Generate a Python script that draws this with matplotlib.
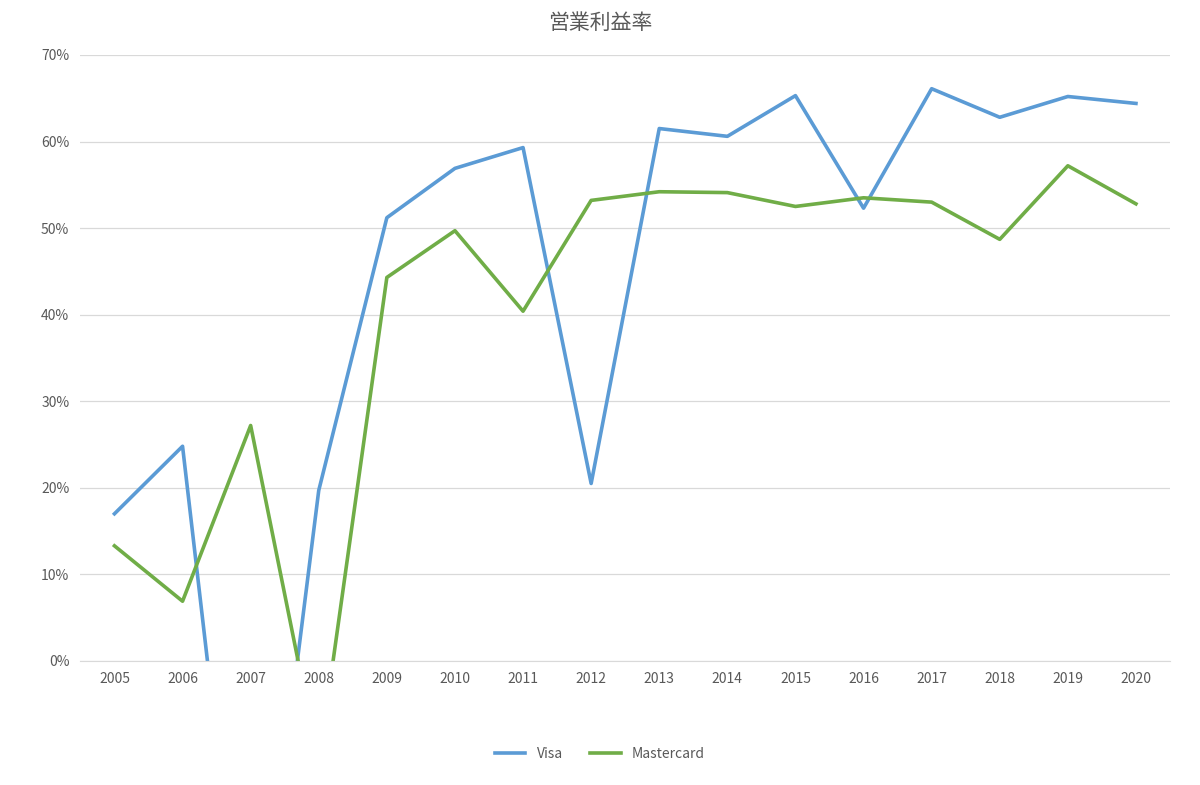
import matplotlib

matplotlib.use("Agg")
import matplotlib.pyplot as plt
from matplotlib.ticker import FuncFormatter

plt.rcParams["font.family"] = ["Noto Sans CJK JP", "DejaVu Sans"]

years = list(range(2005, 2021))
visa = [17.0, 24.8, -43.0, 19.7, 51.2, 56.9, 59.3, 20.5, 61.5, 60.6, 65.3,
        52.3, 66.1, 62.8, 65.2, 64.4]
mastercard = [13.3, 6.9, 27.2, -11.8, 44.3, 49.7, 40.4, 53.2, 54.2, 54.1, 52.5,
              53.5, 53.0, 48.7, 57.2, 52.8]

fig = plt.figure(figsize=(12, 7.85), dpi=100)
ax = fig.add_axes([0.067, 0.158, 0.908, 0.772])
x = range(len(years))
ax.plot(x, visa, color="#5B9BD5", lw=2.6, label="Visa")
ax.plot(x, mastercard, color="#70AD47", lw=2.6, label="Mastercard")

ax.set_ylim(0, 70)
ax.set_xlim(-0.5, len(years) - 0.5)
ax.set_yticks(range(0, 71, 10))
ax.yaxis.set_major_formatter(FuncFormatter(lambda v, _: f"{v:.0f}%"))
ax.set_xticks(list(x))
ax.set_xticklabels([str(y) for y in years])
ax.grid(axis="y", color="#D9D9D9", lw=0.9)
ax.set_axisbelow(True)
for side in ["top", "right", "left"]:
    ax.spines[side].set_visible(False)
ax.spines["bottom"].set_color("#D9D9D9")
ax.tick_params(length=0, labelsize=10, colors="#595959", pad=8)

fig.suptitle("営業利益率", y=0.985, fontsize=15, color="#595959")
fig.legend(loc="lower center", ncol=2, frameon=False, fontsize=10,
           bbox_to_anchor=(0.5, 0.015), labelcolor="#595959", handlelength=2.2)
fig.savefig("out.png", dpi=100)
